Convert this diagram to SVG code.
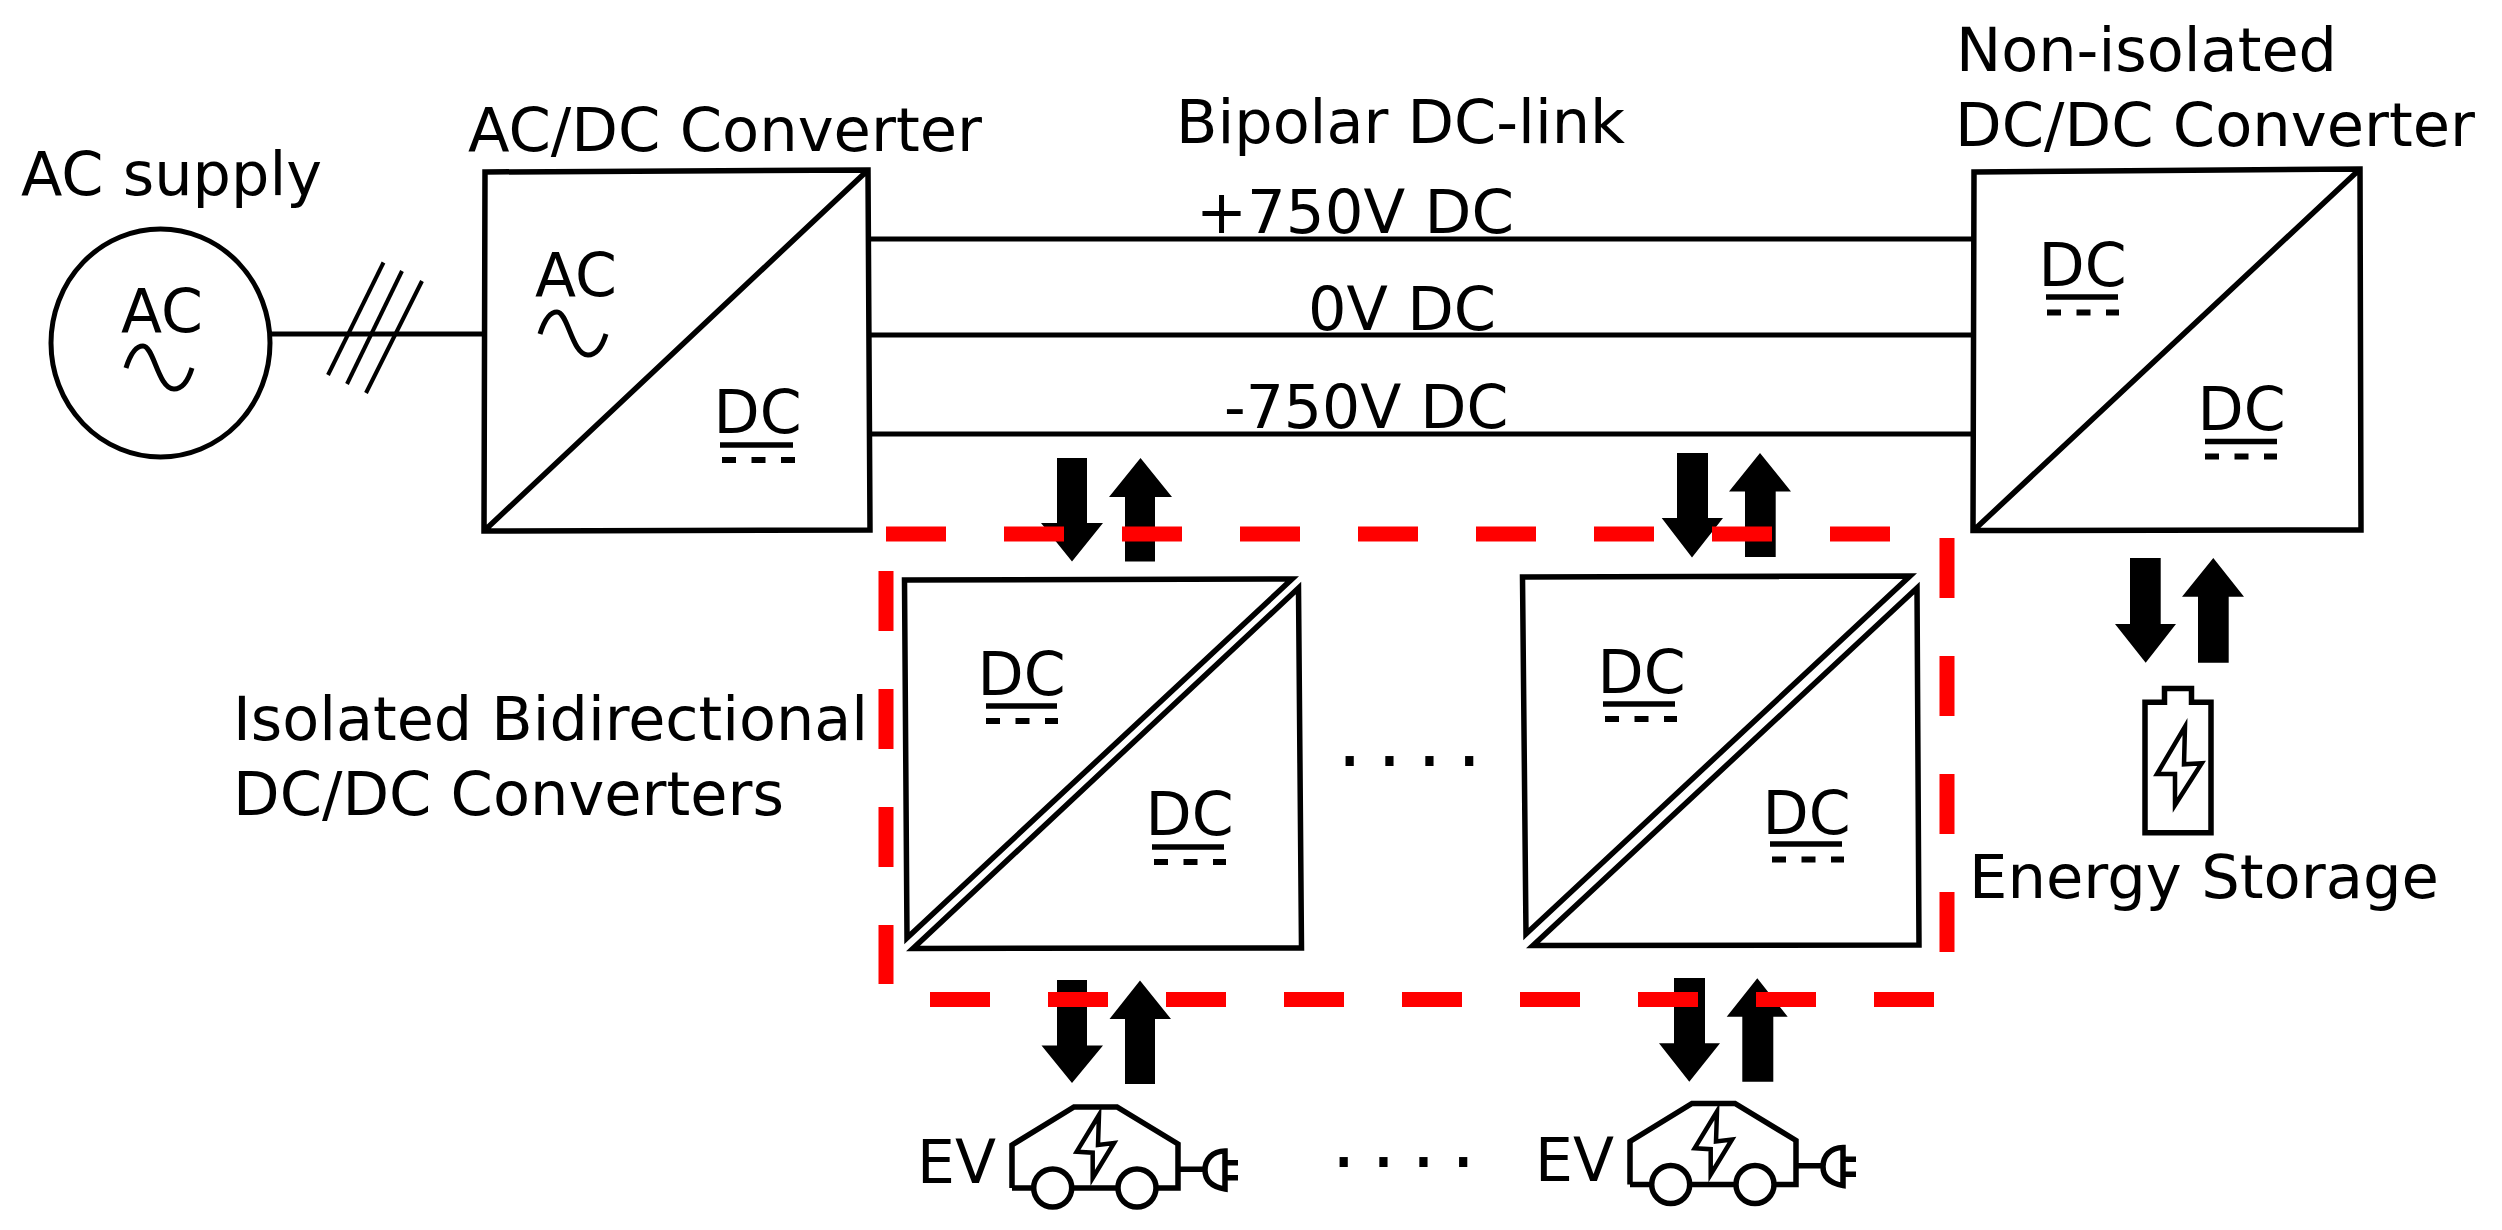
<svg xmlns="http://www.w3.org/2000/svg" width="2502" height="1230" viewBox="0 0 2502 1230">
<style>
text{font-family:"DejaVu Sans",sans-serif;font-size:60px;fill:#000}
.ln{fill:none;stroke:#000;stroke-width:5}
.bx{fill:none;stroke:#000;stroke-width:5.500}
.thin{fill:none;stroke:#000;stroke-width:5}
.icon{fill:none;stroke:#000;stroke-width:5.500}
.bolt{fill:none;stroke:#000;stroke-width:4.500;stroke-miterlimit:10}
.ul{stroke:#000;stroke-width:5.500;fill:none}
.da{stroke:#000;stroke-width:6;fill:none;stroke-dasharray:14 15.5}
.ar{fill:#000}
.red{stroke:#f00;stroke-width:15;fill:none;stroke-dasharray:60 58}
.wheel{fill:#fff;stroke:#000;stroke-width:5.500}
</style>
<rect width="2502" height="1230" fill="#fff"/>
<g id="connectors">
<line class="ln" x1="270" y1="334" x2="485" y2="334"/>
<line class="ln" x1="870" y1="239" x2="1975" y2="239"/>
<line class="ln" x1="870" y1="335" x2="1975" y2="335"/>
<line class="ln" x1="870" y1="434" x2="1975" y2="434"/>
<g class="ln" style="stroke-width:4">
<line x1="383.500" y1="262.500" x2="328" y2="375"/>
<line x1="402" y1="271" x2="347" y2="384"/>
<line x1="422" y1="281" x2="366" y2="393"/>
</g>
<polygon class="ar" points="1057,458 1087,458 1087,523 1103,523 1072,561.5 1041,523 1057,523"/>
<polygon class="ar" points="1125,561.5 1155,561.5 1155,497 1172,497 1140.500,458 1109,497 1125,497"/>
<polygon class="ar" points="1057,980 1087,980 1087,1045.600 1103,1045.600 1072,1083 1041.500,1045.600 1057,1045.600"/>
<polygon class="ar" points="1125,1084 1155,1084 1155,1019 1171,1019 1140,980.500 1109.500,1019 1125,1019"/>
<polygon class="ar" points="1677,453 1708,453 1708,518 1723,518 1692,557.500 1661.700,518 1677,518"/>
<polygon class="ar" points="1745,557 1775.700,557 1775.700,491.400 1791,491.400 1760,453 1729,491.400 1745,491.400"/>
<polygon class="ar" points="1674,978 1705,978 1705,1043.300 1720,1043.300 1689.300,1081.700 1659,1043.300 1674,1043.300"/>
<polygon class="ar" points="1742.300,1081.700 1773.300,1081.700 1773.300,1016.700 1787.700,1016.700 1757.300,978.300 1726.700,1016.700 1742.300,1016.700"/>
<polygon class="ar" points="2130,558 2160.700,558 2160.700,624 2176,624 2145.700,662.700 2115,624 2130,624"/>
<polygon class="ar" points="2198,662.700 2228.700,662.700 2228.700,596.700 2244,596.700 2213.300,558 2182,596.700 2198,596.700"/>
</g>
<g id="ac-supply">
<text x="21" y="195" textLength="301" lengthAdjust="spacingAndGlyphs">AC supply</text>
<ellipse class="ln" cx="160.500" cy="343" rx="109.500" ry="114"/>
<text x="121" y="332">AC</text>
<path class="thin" d="M126,368 C131,352 137,346 143,346 C154,346 158,389 174,389 C182,389 188,381 192,368"/>
</g>
<g id="ac-dc-converter">
<text x="468" y="151" textLength="514" lengthAdjust="spacingAndGlyphs">AC/DC Converter</text>
<path class="bx" d="M485,172 L868,170 L870,530 L484,531 Z M484,531 L868,170"/>
<text x="535" y="296">AC</text>
<path class="thin" d="M540,334 C545,318 551,312 557,312 C568,312 572,355 588,355 C596,355 602,347 606,334"/>
<text x="713.500" y="433">DC</text>
<line class="ul" x1="720" y1="445" x2="793" y2="445"/>
<line class="da" x1="722" y1="460" x2="795" y2="460"/>
</g>
<g id="dc-link-labels">
<text x="1176" y="143" textLength="449" lengthAdjust="spacingAndGlyphs">Bipolar DC-link</text>
<text x="1196" y="233" textLength="318" lengthAdjust="spacingAndGlyphs">+750V DC</text>
<text x="1308" y="330" textLength="188" lengthAdjust="spacingAndGlyphs">0V DC</text>
<text x="1224" y="428">-750V DC</text>
</g>
<g id="non-isolated-converter">
<text x="1956" y="71" textLength="381" lengthAdjust="spacingAndGlyphs">Non-isolated</text>
<text x="1955" y="146" textLength="520" lengthAdjust="spacingAndGlyphs">DC/DC Converter</text>
<path class="bx" d="M1974,172 L2360,169 L2361,530 L1973,530.500 Z M1974,530 L2360,169"/>
<text x="2038.500" y="286">DC</text>
<line class="ul" x1="2046" y1="297" x2="2118" y2="297"/>
<line class="da" x1="2047" y1="312.500" x2="2119" y2="312.500"/>
<text x="2197.500" y="430">DC</text>
<line class="ul" x1="2205" y1="441.500" x2="2277" y2="441.500"/>
<line class="da" x1="2205" y1="456.500" x2="2277" y2="456.500"/>
</g>
<g id="iso-converter-1">
<path class="bx" d="M904.500,580 L1292,579 L907,938 Z"/>
<path class="bx" d="M1298.500,588 L1301.500,948 L913,948.500 Z"/>
<text x="977.500" y="694.500">DC</text>
<line class="ul" x1="986" y1="706" x2="1057" y2="706"/>
<line class="da" x1="986" y1="721" x2="1058" y2="721"/>
<text x="1145.500" y="835">DC</text>
<line class="ul" x1="1152" y1="847" x2="1224" y2="847"/>
<line class="da" x1="1154" y1="862" x2="1226" y2="862"/>
</g>
<g id="iso-converter-2">
<path class="bx" d="M1522.500,577 L1910,576 L1526,934 Z"/>
<path class="bx" d="M1917,588 L1919,945 L1533,945.500 Z"/>
<text x="1597.500" y="692.500">DC</text>
<line class="ul" x1="1603" y1="704" x2="1675" y2="704"/>
<line class="da" x1="1605" y1="719" x2="1677" y2="719"/>
<text x="1762.500" y="834">DC</text>
<line class="ul" x1="1770" y1="844" x2="1842" y2="844"/>
<line class="da" x1="1772" y1="859.500" x2="1844" y2="859.500"/>
</g>
<g id="isolated-label">
<text x="233" y="740" textLength="635" lengthAdjust="spacingAndGlyphs">Isolated Bidirectional</text>
<text x="233" y="815" textLength="551" lengthAdjust="spacingAndGlyphs">DC/DC Converters</text>
</g>
<g id="red-boundary">
<line class="red" x1="886" y1="534" x2="1892" y2="534"/>
<line class="red" x1="1947" y1="538" x2="1947" y2="952"/>
<line class="red" x1="930" y1="999.500" x2="1934" y2="999.500"/>
<line class="red" x1="886" y1="571" x2="886" y2="984"/>
</g>
<g id="dots-middle"><text x="1337" y="766" style="font-size:80px;letter-spacing:-5.5px">. . . .</text></g>
<g id="dots-bottom"><text x="1331" y="1167" style="font-size:80px;letter-spacing:-5.5px">. . . .</text></g>
<g id="ev-1">
<text x="917" y="1183">EV</text>
<path class="icon" d="M1012,1188 V1145 L1074,1107 H1117 L1178,1144 V1188 H1012"/>
<circle class="wheel" cx="1052.700" cy="1188" r="19"/>
<circle class="wheel" cx="1137" cy="1188" r="19"/>
<polygon class="bolt" points="1099,1115 1076.700,1151.700 1092.700,1152.700 1092.700,1178 1114,1143 1098,1145"/>
<path class="icon" d="M1179,1169.300 H1204 M1225,1151 C1212,1151 1205,1160 1205,1170 C1205,1181 1213,1187 1225,1189 Z M1225,1162.700 H1238 M1225,1177.700 H1238"/>
</g>
<g id="ev-2" transform="translate(618,-3.5)">
<text x="917" y="1184.500">EV</text>
<path class="icon" d="M1012,1188 V1145 L1074,1107 H1117 L1178,1144 V1188 H1012"/>
<circle class="wheel" cx="1052.700" cy="1188" r="19"/>
<circle class="wheel" cx="1137" cy="1188" r="19"/>
<polygon class="bolt" points="1099,1115 1076.700,1151.700 1092.700,1152.700 1092.700,1178 1114,1143 1098,1145"/>
<path class="icon" d="M1179,1169.300 H1204 M1225,1151 C1212,1151 1205,1160 1205,1170 C1205,1181 1213,1187 1225,1189 Z M1225,1162.700 H1238 M1225,1177.700 H1238"/>
</g>
<g id="energy-storage">
<path class="icon" d="M2145,702.300 H2164.500 V688.500 H2191.500 V702.300 H2211 V832.700 H2145 Z"/>
<polygon class="bolt" points="2185,726.700 2157,774 2175,774 2175,805 2201.700,763.300 2184,764.300"/>
<text x="1969" y="898" textLength="470" lengthAdjust="spacingAndGlyphs">Energy Storage</text>
</g>
</svg>
